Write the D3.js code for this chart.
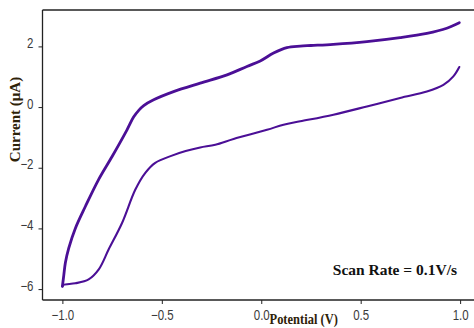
<!DOCTYPE html>
<html>
<head>
<meta charset="utf-8">
<script src="https://cdn.jsdelivr.net/npm/d3@7"></script>
<style>
  html, body { margin: 0; padding: 0; background: #fff; }
  svg { display: block; }
</style>
</head>
<body>
<svg id="chart" width="474" height="328"></svg>
<script>
// Cyclic voltammogram: anodic (forward) and cathodic (reverse) sweeps
const forwardPotential = [-1.0, -0.993, -0.985, -0.968, -0.935, -0.884, -0.818, -0.75, -0.675, -0.642, -0.615, -0.591, -0.541, -0.441, -0.307, -0.172, -0.072, -0.005, 0.062, 0.129, 0.196, 0.25, 0.362, 0.531, 0.698, 0.833, 0.933, 0.996];
const forwardCurrent   = [-5.91, -5.55, -5.13, -4.65, -4.0, -3.27, -2.39, -1.63, -0.75, -0.33, -0.1, 0.05, 0.24, 0.51, 0.79, 1.06, 1.34, 1.52, 1.78, 1.96, 2.01, 2.03, 2.07, 2.16, 2.29, 2.43, 2.60, 2.78];

const reversePotential = [0.996, 0.966, 0.916, 0.833, 0.698, 0.531, 0.363, 0.196, 0.112, 0.029, -0.139, -0.231, -0.307, -0.38, -0.449, -0.533, -0.583, -0.633, -0.7, -0.767, -0.817, -0.868, -0.935, -0.994, -1.0];
const reverseCurrent   = [1.32, 1.01, 0.73, 0.51, 0.30, 0.02, -0.25, -0.47, -0.58, -0.75, -1.05, -1.24, -1.33, -1.45, -1.60, -1.84, -2.17, -2.72, -3.82, -4.69, -5.35, -5.68, -5.81, -5.86, -5.91];

const xMajorTicks = [-1.0, -0.5, 0.0, 0.5, 1.0];
const xMinorTicks = d3.range(-11, 11).map(i => i / 10);
const yMajorTicks = [-6, -4, -2, 0, 2];
const yMinorTicks = [-5, -3, -1, 1, 3];

const svg = d3.select("#chart");
const plotLeft = 42.5, plotTop = 10, plotBottom = 300, plotRight = 480;

const x = d3.scaleLinear().domain([-1.1, 1.1]).range([plotLeft, plotRight]);
const y = d3.scaleLinear().domain([-6.36, 3.2]).range([plotBottom, plotTop]);

const tickColor = "#222";
const labelColor = "#3a3a3a";
const tickFont = "Liberation Sans, Arial, sans-serif";

// frame: top border
svg.append("line")
  .attr("x1", plotLeft).attr("x2", 474).attr("y1", plotTop).attr("y2", plotTop)
  .attr("stroke", tickColor).attr("stroke-width", 1.3);

// x axis
const xAxis = svg.append("g").attr("transform", `translate(0,${plotBottom})`);
xAxis.call(d3.axisBottom(x).tickValues(xMinorTicks).tickSize(4).tickFormat(""));
xAxis.call(d3.axisBottom(x).tickValues(xMajorTicks).tickSize(4).tickFormat(d3.format(".1f")));
xAxis.selectAll(".domain").attr("stroke", tickColor).attr("stroke-width", 1.3)
  .attr("d", `M${plotLeft},0H474`);
xAxis.selectAll(".tick line").attr("stroke", tickColor);
xAxis.selectAll("text")
  .attr("font-family", tickFont).attr("font-size", 11.5).attr("fill", labelColor)
  .attr("y", 16.8).attr("dy", 0)
  .attr("transform", "scale(1,1.22)");

// y axis
const yAxis = svg.append("g").attr("transform", `translate(${plotLeft},0)`);
yAxis.call(d3.axisLeft(y).tickValues(yMinorTicks).tickSize(4).tickFormat(""));
yAxis.call(d3.axisLeft(y).tickValues(yMajorTicks).tickSize(4).tickFormat(d3.format("d")));
yAxis.selectAll(".domain").attr("stroke", tickColor).attr("stroke-width", 1.3)
  .attr("d", `M0,${plotTop}V${plotBottom}`);
yAxis.selectAll(".tick line").attr("stroke", tickColor);
yAxis.selectAll("text")
  .attr("font-family", tickFont).attr("font-size", 11.5).attr("fill", labelColor)
  .attr("x", -9).attr("dy", "0.08em")
  .attr("transform", "scale(1,1.22)");

// curves
const line = d3.line()
  .x(d => x(d[0])).y(d => y(d[1]))
  .curve(d3.curveCatmullRom.alpha(0.5));

const curveColor = "#4b0f96";
svg.append("path")
  .datum(forwardPotential.map((p, i) => [p, forwardCurrent[i]]))
  .attr("d", line).attr("fill", "none")
  .attr("stroke", curveColor).attr("stroke-width", 2.8)
  .attr("stroke-linejoin", "round").attr("stroke-linecap", "round");

svg.append("path")
  .datum(reversePotential.map((p, i) => [p, reverseCurrent[i]]))
  .attr("d", line).attr("fill", "none")
  .attr("stroke", curveColor).attr("stroke-width", 2.1)
  .attr("stroke-linejoin", "round").attr("stroke-linecap", "round");

// titles
const titleFont = "Liberation Serif, 'Times New Roman', serif";
svg.append("text")
  .attr("transform", "translate(269.5,324) scale(1,1.1)")
  .attr("text-anchor", "start")
  .attr("font-family", titleFont).attr("font-weight", "bold").attr("font-size", 12.5)
  .attr("fill", "#2e2208")
  .text("Potential (V)");

svg.append("text")
  .attr("transform", "translate(19.5,119.5) rotate(-90)")
  .attr("text-anchor", "middle")
  .attr("font-family", titleFont).attr("font-weight", "bold").attr("font-size", 15)
  .attr("fill", "#2e2208")
  .text("Current (\u03BCA)");

svg.append("text")
  .attr("x", 457).attr("y", 275)
  .attr("text-anchor", "end")
  .attr("font-family", titleFont).attr("font-weight", "bold").attr("font-size", 15.5)
  .attr("fill", "#111")
  .text("Scan Rate = 0.1V/s");
</script>
</body>
</html>
